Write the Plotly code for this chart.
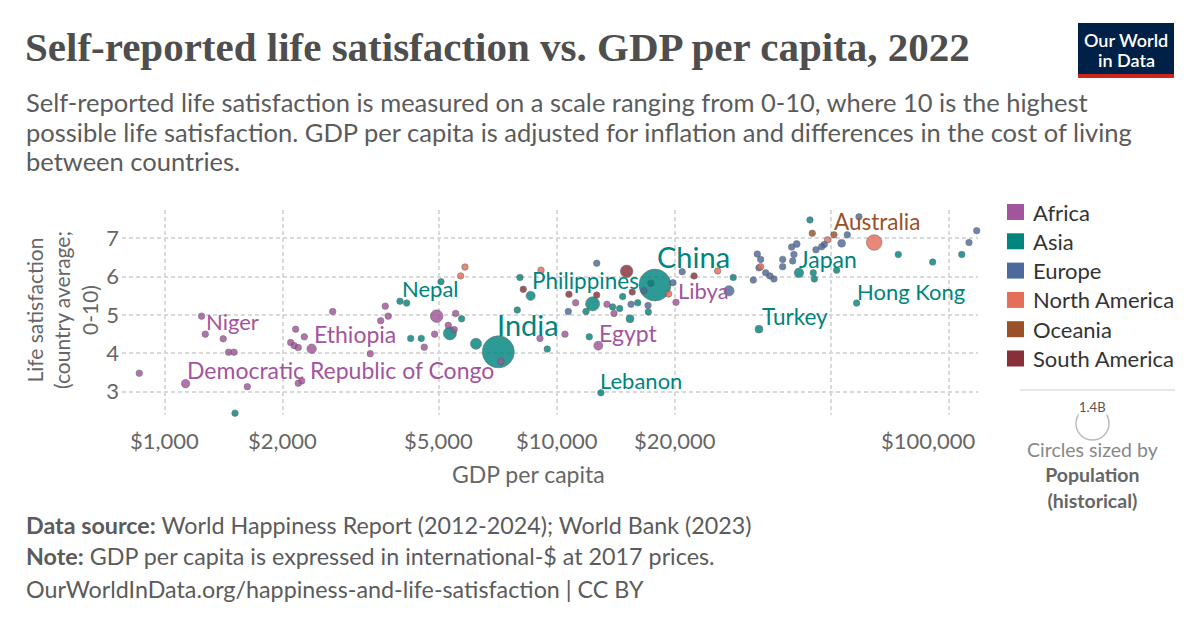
import numpy as np
import plotly.graph_objects as go

# ---------------- DATA ----------------
regions = ["Africa", "Asia", "Europe", "North America", "Oceania", "South America"]
region_colors = ["#A2559C", "#00847E", "#4C6A9C", "#E56E5A", "#9A5129", "#883039"]

africa_gdp = [710, 860, 1129, 1240, 1267, 1408, 1453, 1500, 1622, 2155, 2267, 2093, 2137, 2188,
              2367, 3340, 2188, 2233, 2678, 3648, 3550, 3712, 4933, 5515, 5281, 5470, 4875, 4586,
              7196, 9050, 10481, 12748, 11160, 13415, 13980, 20120]
africa_ls = [3.80, 3.48, 3.21, 4.97, 4.50, 4.38, 4.03, 4.03, 3.13, 4.63, 4.43, 4.28, 4.20, 4.15,
             4.12, 3.99, 3.22, 3.28, 5.09, 5.23, 4.85, 4.97, 4.97, 5.04, 4.73, 4.62, 4.50, 4.16,
             3.79, 4.39, 4.50, 4.20, 5.32, 5.28, 5.04, 5.33]
africa_pop = [13, 6, 100, 20, 25, 10, 15, 15, 20, 15, 12, 18, 10, 10,
              123, 12, 6, 8, 10, 10, 10, 10, 218, 12, 20, 10, 10, 8,
              10, 5, 8, 111, 10, 10, 5, 7]
africa_names = ["", "", "Democratic Republic of Congo", "", "Niger", "", "", "", "", "", "", "", "", "",
                "Ethiopia", "", "", "", "", "", "", "", "", "", "", "", "", "",
                "", "", "", "Egypt", "", "", "", "Libya"]

asia_gdp = [1509, 3977, 4137, 5060, 5712, 5333, 4235, 4507, 6216, 7085, 8046, 8568, 7920, 9447,
            12090, 12945, 12330, 11860, 13870, 14454, 14710, 16070, 15360, 17100, 17783, 17370,
            28170, 41430, 44200, 45070, 45340, 51700, 32760, 58140, 74260, 90880, 107800]
asia_ls = [2.44, 5.36, 5.31, 5.87, 4.90, 4.52, 4.39, 4.39, 4.25, 4.04, 5.98, 5.50, 5.13, 4.11,
           4.43, 2.97, 5.29, 5.09, 5.21, 5.17, 5.48, 5.32, 4.90, 5.08, 5.78, 5.83,
           5.98, 6.10, 7.48, 6.10, 5.94, 6.17, 4.63, 5.31, 6.58, 6.38, 6.58]
asia_pop = [40, 30, 10, 5, 10, 235, 10, 10, 170, 1420, 8, 115, 10, 10,
            10, 5, 275, 30, 35, 10, 10, 10, 88, 10, 1410, 10,
            10, 125, 9, 10, 5, 4, 85, 7, 5, 4, 3]
asia_names = ["", "Nepal", "", "", "", "", "", "", "", "India", "", "Philippines", "", "",
              "", "Lebanon", "", "", "", "", "", "", "", "", "China", "",
              "", "Japan", "", "", "", "", "Turkey", "Hong Kong", "", "", ""]

europe_gdp = [12630, 10690, 15450, 17070, 16670, 19770, 20870, 27470, 31680, 32430, 33080, 32760,
              34070, 34940, 35770, 37650, 37650, 39930, 40230, 39690, 40880, 47340, 48070, 45780,
              49030, 53240, 55040, 58940, 112500, 117700]
europe_ls = [6.35, 5.09, 5.28, 5.25, 5.63, 5.84, 6.13, 5.63, 5.91, 6.59, 6.45, 6.23,
             6.10, 6.02, 5.94, 6.45, 6.26, 6.41, 6.58, 6.77, 6.85, 6.78, 6.84, 6.70,
             7.80, 6.87, 7.09, 7.56, 6.89, 7.20]
europe_pop = [3, 10, 7, 10, 10, 9, 6, 144, 10, 5, 4, 10,
              10, 38, 10, 10, 60, 5, 8, 10, 67, 10, 17, 9,
              5, 84, 10, 6, 5, 5]

na_gdp = [5679, 5826, 9105, 19270, 25700, 33080, 49030, 64460]
na_ls = [6.02, 6.25, 6.17, 5.55, 6.15, 6.26, 6.96, 6.89]
na_pop = [10, 6, 10, 10, 10, 5, 38, 335]

oceania_gdp = [44800, 50890]
oceania_ls = [7.13, 7.09]
oceania_pop = [5, 26]
oceania_names = ["", "Australia"]

sa_gdp = [8204, 10730, 12630, 15060, 15560, 22370]
sa_ls = [5.67, 5.54, 5.52, 6.14, 5.60, 6.02]
sa_pop = [10, 18, 11, 215, 3, 19]

x_tickvals = [1000, 2000, 5000, 10000, 20000, 50000, 100000]
x_ticktext = ["$1,000", "$2,000", "$5,000", "$10,000", "$20,000", "", "$100,000"]
y_tickvals = [3, 4, 5, 6, 7]

# label offsets (pixels: dx right, dy up) and font sizes
label_style = {
    "Democratic Republic of Congo": (-1, 14, 23), "Niger": (-1, 13, 22), "Ethiopia": (0, 15, 23),
    "Egypt": (-1, 13, 23), "Libya": (0, 12, 22), "Nepal": (0, 13, 22), "India": (-3, 27, 29),
    "Philippines": (-1, 15, 22.5), "Lebanon": (-3, 12, 22), "China": (0, 29, 29), "Japan": (-2, 14, 23),
    "Turkey": (1, 13, 22.5), "Hong Kong": (-2, 12, 22), "Australia": (-2, 13, 22.5),
}

# ---------------- BUILD ----------------
W, H = 1200, 628
L, R, T, B = 122, 222, 210, 213
PW, PH = W - L - R, H - T - B

def px(x, y):
    return (x - L) / PW, (H - B - y) / PH

groups = [
    (africa_gdp, africa_ls, africa_pop, africa_names, 0),
    (asia_gdp, asia_ls, asia_pop, asia_names, 1),
    (europe_gdp, europe_ls, europe_pop, None, 2),
    (na_gdp, na_ls, na_pop, None, 3),
    (oceania_gdp, oceania_ls, oceania_pop, oceania_names, 4),
    (sa_gdp, sa_ls, sa_pop, None, 5),
]
rows = []
for g, l, p, n, ri in groups:
    for i in range(len(g)):
        rows.append((g[i], l[i], p[i], ri, n[i] if n else ""))
rows.sort(key=lambda r: -r[2])

xs = [r[0] for r in rows]
ys = [r[1] for r in rows]
sizes = [max(6.5, 0.85 * np.sqrt(r[2])) for r in rows]
cols = [region_colors[r[3]] for r in rows]

fig = go.Figure()
fig.add_trace(go.Scatter(
    x=xs, y=ys, mode="markers",
    marker=dict(size=sizes, color=cols, opacity=0.82,
                line=dict(width=0.6, color="#555")),
    cliponaxis=False, showlegend=False, hoverinfo="skip"))

annotations = []
for r in rows:
    if r[4]:
        dx, dy, fs = label_style[r[4]]
        annotations.append(dict(
            x=np.log10(r[0]), y=r[1], xref="x", yref="y", text=r[4], showarrow=False,
            xanchor="left", yanchor="middle", xshift=dx, yshift=dy,
            font=dict(family="Lato", size=fs, color=region_colors[r[3]])))

# x tick labels (last one kept inside the plot's right edge, as in the reference)
for v, t in zip(x_tickvals, x_ticktext):
    if t:
        last = v == x_tickvals[-1]
        annotations.append(dict(
            x=np.log10(v), y=0, xref="x", yref="paper", text=t, showarrow=False,
            xanchor="right" if last else "center", yanchor="middle",
            xshift=29 if last else 0, yshift=-25,
            font=dict(family="Lato", size=22, color="#666")))

def ann(x, y, text, size, color, xanchor="left", yanchor="middle", family="Lato", **kw):
    xp, yp = px(x, y)
    font = dict(family=family, size=size, color=color)
    if "weight" in kw:
        font["weight"] = kw.pop("weight")
    annotations.append(dict(x=xp, y=yp, xref="paper", yref="paper", text=text, showarrow=False,
                            xanchor=xanchor, yanchor=yanchor, font=font, **kw))

# Title & subtitle
ann(23, 47, "<b>Self-reported life satisfaction vs. GDP per capita, 2022</b>", 41, "#4e4e4e",
    family="Liberation Serif")
sub = ["Self-reported life satisfaction is measured on a scale ranging from 0-10, where 10 is the highest",
       "possible life satisfaction. GDP per capita is adjusted for inflation and differences in the cost of living",
       "between countries."]
for i, s in enumerate(sub):
    ann(24, 102 + i * 29.5, s, 25.5, "#5b5b5b")

# Axis titles
ann(528, 474, "GDP per capita", 23, "#666", xanchor="center")
ann(62, 310, "Life satisfaction<br>(country average;<br>0-10)", 21, "#666", xanchor="center",
    textangle=-90)

# Footer
ann(24, 525, "<b>Data source:</b> World Happiness Report (2012-2024); World Bank (2023)", 23.3, "#5b5b5b")
ann(24, 556, "<b>Note:</b> GDP per capita is expressed in international-$ at 2017 prices.", 23.3, "#5b5b5b")
ann(24, 589, "OurWorldInData.org/happiness-and-life-satisfaction | CC BY", 23.3, "#5b5b5b")

# Logo
shapes = []
def rect(x0, y0, x1, y1, **kw):
    a0, b0 = px(x0, y1)
    a1, b1 = px(x1, y0)
    shapes.append(dict(type="rect", xref="paper", yref="paper", x0=a0, y0=b0, x1=a1, y1=b1, **kw))

rect(1078, 23, 1174, 78, fillcolor="#002147", line=dict(width=0))
rect(1078, 74, 1174, 78, fillcolor="#ce261e", line=dict(width=0))
ann(1126, 40, "Our World", 18, "white", xanchor="center", weight=600)
ann(1126, 60, "in Data", 18, "white", xanchor="center", weight=600)

# Legend
for i, (name, c) in enumerate(zip(regions, region_colors)):
    yc = 212 + i * 29.3
    rect(1007, yc - 8, 1024, yc + 8, fillcolor=c, line=dict(width=0))
    ann(1031, yc, name, 22, "#333")

# Size legend
a0, b0 = px(1020, 390)
a1, _ = px(1175, 390)
shapes.append(dict(type="line", xref="paper", yref="paper", x0=a0, y0=b0, x1=a1, y1=b0,
                   line=dict(color="#ddd", width=1.5)))
c0x, c0y = px(1076, 407)
c1x, c1y = px(1109, 440)
shapes.append(dict(type="circle", xref="paper", yref="paper", x0=c0x, y0=c1y, x1=c1x, y1=c0y,
                   line=dict(color="#bbb", width=1.5), fillcolor="rgba(0,0,0,0)"))
ann(1092.5, 407, "1.4B", 13, "#555", xanchor="center", bgcolor="white", borderpad=0)
ann(1092.5, 475,
    "<span style='color:#888'>Circles sized by</span><br><b>Population</b><br><b>(historical)</b>",
    19.5, "#666", xanchor="center")

fig.update_layout(
    width=W, height=H, margin=dict(l=L, r=R, t=T, b=B),
    paper_bgcolor="white", plot_bgcolor="white",
    font=dict(family="Lato", color="#666"),
    annotations=annotations, shapes=shapes,
    xaxis=dict(type="log", range=[np.log10(777), np.log10(118600)],
               tickvals=x_tickvals, showticklabels=False,
               showgrid=True, gridcolor="#d9d9d9", griddash="4px,3px", gridwidth=1.6,
               zeroline=False, showline=False, ticks=""),
    yaxis=dict(range=[2.392, 7.738], tickvals=y_tickvals,
               showgrid=True, gridcolor="#d9d9d9", griddash="4px,3px", gridwidth=1.6,
               zeroline=False, showline=False, ticks="", ticklabelstandoff=2,
               tickfont=dict(size=22, color="#666")),
)

fig.write_html("out.html", config={"displayModeBar": False},
               post_script="document.body.style.margin='0';")
